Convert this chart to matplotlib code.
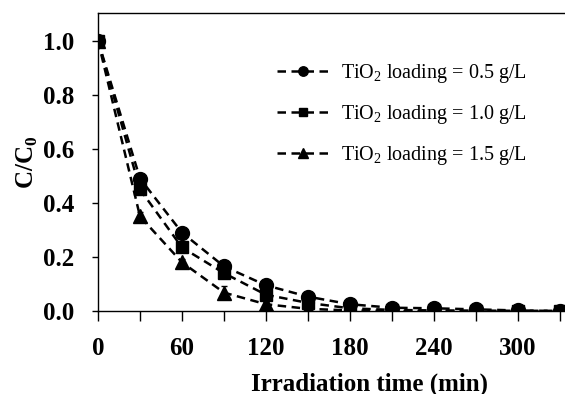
import matplotlib
matplotlib.use("Agg")
import matplotlib.pyplot as plt
from matplotlib.lines import Line2D

# Irradiation time (min) and normalised concentration C/C0 for each TiO2 loading
time_min = [0, 30, 60, 90, 120, 150, 180, 210, 240, 270, 300, 330]
c_05 = [1.0, 0.49, 0.29, 0.165, 0.095, 0.053, 0.025, 0.012, 0.010, 0.006, 0.002, 0.0]
c_10 = [1.0, 0.45, 0.235, 0.14, 0.06, 0.03, 0.01, 0.004, 0.002, 0.001, 0.0, 0.0]
c_15 = [1.0, 0.35, 0.18, 0.068, 0.025, 0.008, 0.002, 0.0, 0.0, 0.0, 0.0, 0.0]
err_05 = [0.0, 0.015, 0.01, 0.012, 0.01, 0.008, 0.004, 0.004, 0.003, 0.002, 0.0, 0.0]
err_10 = [0.0, 0.015, 0.015, 0.015, 0.01, 0.008, 0.004, 0.002, 0.0, 0.0, 0.0, 0.0]
err_15 = [0.0, 0.015, 0.012, 0.025, 0.01, 0.005, 0.0, 0.0, 0.0, 0.0, 0.0, 0.0]

labels = ["TiO$_2$ loading = 0.5 g/L",
          "TiO$_2$ loading = 1.0 g/L",
          "TiO$_2$ loading = 1.5 g/L"]

plt.rcParams["font.family"] = ["Liberation Serif", "DejaVu Serif"]
plt.rcParams["mathtext.fontset"] = "custom"
plt.rcParams["mathtext.rm"] = "Liberation Serif"
plt.rcParams["mathtext.bf"] = "Liberation Serif:bold"

fig = plt.figure(figsize=(5.65, 3.94), dpi=100)
ax = fig.add_axes([98 / 565, 83 / 394, 504 / 565, 298 / 394])

dash = (0, (3.4, 2.2))
series = [(c_05, err_05, "o", 10),
          (c_10, err_10, "s", 9),
          (c_15, err_15, "^", 10)]

handles = []
for (vals, errs, mk, ms), lab in zip(series, labels):
    ax.errorbar(time_min, vals, yerr=errs, color="black", marker=mk,
                markersize=ms, linestyle=dash, linewidth=1.8,
                elinewidth=0.8, capsize=2.5)
    handles.append(Line2D([], [], color="black", marker=mk, markersize=ms * 0.68,
                          linestyle=dash, linewidth=1.8, label=lab))

ax.set_xlim(0, 360)
ax.set_ylim(0, 1.1025)
ax.set_xticks([0, 60, 120, 180, 240, 300])
ax.set_xticks(range(0, 361, 30), minor=True)
ax.set_yticks([0.0, 0.2, 0.4, 0.6, 0.8, 1.0])
ax.set_yticklabels(["0.0", "0.2", "0.4", "0.6", "0.8", "1.0"])

for lbl in ax.get_xticklabels() + ax.get_yticklabels():
    lbl.set_fontweight("bold")
    lbl.set_fontsize(18)

ax.tick_params(axis="x", which="both", direction="out", length=7, width=1, pad=12)
ax.tick_params(axis="y", direction="out", length=4, width=1, pad=13)

ax.set_xlabel("Irradiation time (min)", fontsize=18, fontweight="bold")
ax.xaxis.set_label_coords(0.538, -0.205)
ax.set_ylabel(r"C/C$_\mathbf{0}$", fontsize=18, fontweight="bold", labelpad=2)

for sp in ax.spines.values():
    sp.set_linewidth(1)

ax.legend(handles=handles, loc="upper left", bbox_to_anchor=(0.32, 0.895),
          frameon=False, fontsize=14.5, handlelength=2.5, labelspacing=0.88,
          handletextpad=0.65)

fig.savefig("out.png", dpi=100)
